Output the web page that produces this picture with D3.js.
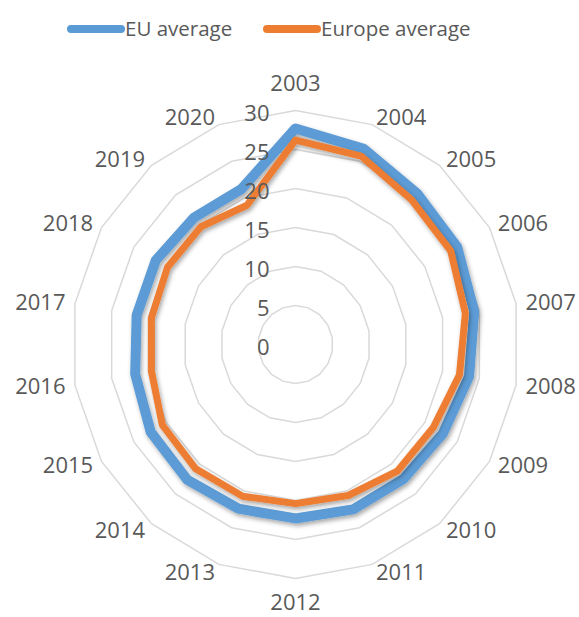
<!DOCTYPE html>
<html>
<head>
<meta charset="utf-8">
<script src="https://cdn.jsdelivr.net/npm/d3@7"></script>
<style>
  html, body { margin: 0; padding: 0; background: #fff; }
  svg { display: block; font-family: "Open Sans", sans-serif; }
</style>
</head>
<body>
<div id="chart"></div>
<script>
const years = ['2003','2004','2005','2006','2007','2008','2009','2010','2011','2012',
  '2013','2014','2015','2016','2017','2018','2019','2020'];
const euAverage = [27.7, 26.7, 25.3, 25.0, 24.3, 23.6, 22.8, 22.5, 22.5, 22.3,
  22.4, 22.6, 22.4, 21.8, 21.6, 21.6, 21.2, 21.2];
const europeAverage = [26.2, 25.7, 24.2, 24.0, 23.1, 22.3, 21.3, 21.2, 20.6, 20.4,
  20.7, 20.8, 20.6, 19.6, 19.6, 19.8, 19.7, 19.0];
const ringTicks = [0, 5, 10, 15, 20, 25, 30];
const seriesNames = ['EU average', 'Europe average'];

const width = 579, height = 617;
const cx = 295.5, cy = 344.5;
const colors = ['#5b9bd5', '#ed7d31'];
const textColor = '#595959';

// picture is slightly taller than wide, so use separate radii
const rx = d3.scaleLinear().domain([0, 30]).range([0, 224]);
const ry = d3.scaleLinear().domain([0, 30]).range([0, 234]);
const angle = d3.scaleLinear().domain([0, years.length]).range([0, 2 * Math.PI]);

const pt = (v, i) => [cx + rx(v) * Math.sin(angle(i)), cy - ry(v) * Math.cos(angle(i))];

const svg = d3.select('#chart').append('svg')
  .attr('width', width)
  .attr('height', height);

const defs = svg.append('defs');
const shadow = defs.append('filter').attr('id', 'shadow')
  .attr('x', '-20%').attr('y', '-20%').attr('width', '140%').attr('height', '140%');
shadow.append('feDropShadow')
  .attr('dx', 1.5).attr('dy', 2.5).attr('stdDeviation', 2)
  .attr('flood-color', '#000').attr('flood-opacity', 0.35);

// Gridlines (polygon rings)
const line = d3.line();
svg.append('g').attr('class', 'grid')
  .selectAll('path')
  .data(ringTicks.filter(d => d > 0))
  .join('path')
  .attr('d', t => line(years.map((_, i) => pt(t, i))) + 'Z')
  .attr('fill', 'none')
  .attr('stroke', '#d9d9d9')
  .attr('stroke-width', 1.5);

// Series
const seriesData = [euAverage, europeAverage];
const widths = [10, 7];
svg.append('g').attr('class', 'series')
  .selectAll('path')
  .data(seriesData)
  .join('path')
  .attr('d', vals => line(vals.map((v, i) => pt(v, i))) + 'Z')
  .attr('fill', 'none')
  .attr('stroke', (d, i) => colors[i])
  .attr('stroke-width', (d, i) => widths[i])
  .attr('stroke-linejoin', 'round')
  .attr('filter', 'url(#shadow)');

// Value labels along the top spoke (drawn over the lines)
svg.append('g').attr('class', 'ring-labels')
  .selectAll('text')
  .data(ringTicks)
  .join('text')
  .attr('x', cx - 26)
  .attr('y', t => cy - ry(t) + 3)
  .attr('dy', '0.35em')
  .attr('text-anchor', 'end')
  .style('font-size', '22px')
  .style('fill', textColor)
  .text(d => d);

// Category labels
const lx = 232.5, ly = 242;
const catLabels = svg.append('g').attr('class', 'cat-labels')
  .selectAll('text')
  .data(years)
  .join('text')
  .style('font-size', '22px')
  .style('fill', textColor)
  .attr('text-anchor', 'middle')
  .attr('dy', '0.35em')
  .text(d => d);

catLabels.each(function (d, i) {
  const s = Math.sin(angle(i)), c = Math.cos(angle(i));
  const half = this.getComputedTextLength() / 2;
  let x = cx + lx * s, y = cy - ly * c;
  if (Math.abs(s) > 0.01) x += Math.sign(s) * (half + 1);
  else y -= Math.sign(c) * (c > 0 ? 19 : 16);
  d3.select(this).attr('x', x).attr('y', y);
});

// Legend
const legend = svg.append('g').attr('class', 'legend');
const legendX = [67, 263];
const items = legend.selectAll('g')
  .data(seriesNames)
  .join('g')
  .attr('transform', (d, i) => `translate(${legendX[i]},29)`);
items.append('line')
  .attr('x1', 4).attr('x2', 54)
  .attr('stroke', (d, i) => colors[i])
  .attr('stroke-width', 8)
  .attr('stroke-linecap', 'round');
items.append('text')
  .attr('x', 58)
  .attr('dy', '0.35em')
  .style('font-size', '20.5px')
  .style('fill', textColor)
  .text(d => d);
</script>
</body>
</html>
